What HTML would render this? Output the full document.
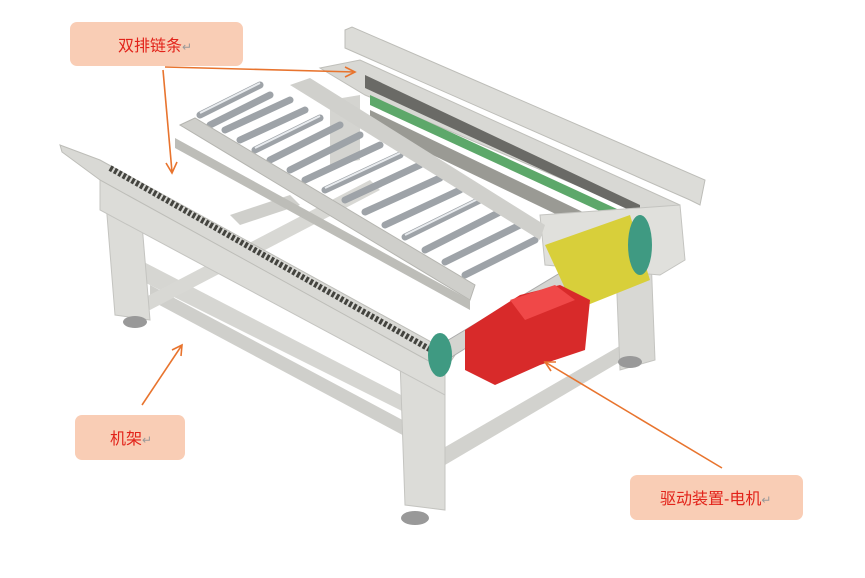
<!DOCTYPE html>
<html><head><meta charset="utf-8"><style>
html,body{margin:0;padding:0;background:#fff;}
svg{display:block;}
text{font-family:"Liberation Sans","Noto Sans CJK SC",sans-serif;}
</style></head><body>
<svg width="865" height="578" viewBox="0 0 865 578" xmlns="http://www.w3.org/2000/svg">
<rect width="865" height="578" fill="#fff"/>
<polygon points="345,30 352,27 705,180 700,205 690,200 345,48" fill="#dcdcd8" stroke="#bdbdb8"/>
<!-- lower frame -->
<polygon points="140,260 430,410 440,430 140,280" fill="#d6d6d2"/>
<polygon points="150,285 440,440 440,455 150,300" fill="#cfcfcb"/>
<polygon points="140,300 370,180 380,190 150,310" fill="#d8d8d4"/>
<polygon points="440,450 630,340 640,350 445,465" fill="#d2d2ce"/>
<polygon points="230,215 290,195 300,205 240,225" fill="#cfcfcb"/>
<!-- legs -->
<polygon points="105,190 140,200 150,320 115,315" fill="#dcdcd8" stroke="#c4c4c0"/>
<polygon points="400,360 445,370 445,510 405,505" fill="#dcdcd8" stroke="#c4c4c0"/>
<polygon points="615,245 650,230 655,360 620,370" fill="#d8d8d4" stroke="#c4c4c0"/>
<polygon points="330,100 360,95 360,160 330,165" fill="#d4d4d0"/>
<!-- back rail -->
<polygon points="320,68 360,60 680,205 670,225 365,95" fill="#d8d8d4" stroke="#bfbfba"/>
<polygon points="365,75 640,205 640,215 365,88" fill="#6a6a66"/>
<polygon points="370,95 630,215 630,225 370,105" fill="#5da86a"/>
<polygon points="370,110 610,225 610,240 370,125" fill="#9a9a94"/>
<polygon points="540,215 680,205 685,260 660,275 545,265" fill="#e0e0dc" stroke="#c4c4c0"/>
<!-- rollers -->
<g stroke="#9ea3a8" stroke-width="7" stroke-linecap="round">
<line x1="200" y1="115" x2="260" y2="85"/><line x1="210" y1="125" x2="270" y2="95"/>
<line x1="225" y1="130" x2="290" y2="100"/><line x1="240" y1="140" x2="305" y2="110"/>
<line x1="255" y1="150" x2="320" y2="118"/><line x1="270" y1="160" x2="340" y2="125"/>
<line x1="290" y1="170" x2="360" y2="135"/><line x1="305" y1="180" x2="380" y2="145"/>
<line x1="325" y1="190" x2="400" y2="155"/><line x1="345" y1="200" x2="420" y2="165"/>
<line x1="365" y1="212" x2="440" y2="178"/><line x1="385" y1="225" x2="460" y2="190"/>
<line x1="405" y1="237" x2="480" y2="200"/><line x1="425" y1="250" x2="500" y2="212"/>
<line x1="445" y1="262" x2="520" y2="225"/><line x1="465" y1="275" x2="535" y2="240"/>
</g>
<g stroke="#e8ebee" stroke-width="2">
<line x1="200" y1="113" x2="260" y2="83"/><line x1="255" y1="148" x2="320" y2="116"/>
<line x1="325" y1="188" x2="400" y2="153"/><line x1="405" y1="235" x2="480" y2="198"/>
</g>
<polygon points="180,125 195,118 475,285 470,300" fill="#cfcfcb" stroke="#b5b5b0"/>
<polygon points="175,138 470,300 470,310 175,148" fill="#bdbdb8"/>
<polygon points="290,85 310,78 545,225 540,240" fill="#d0d0cc"/>
<!-- front left rail with side plate -->
<polygon points="100,175 445,365 445,395 100,210" fill="#dcdcd8" stroke="#c4c4c0"/>
<polygon points="60,145 100,160 455,355 445,370 100,180 62,152" fill="#d9d9d5" stroke="#bdbdb8"/>
<line x1="110" y1="168" x2="440" y2="355" stroke="#44443f" stroke-width="6" stroke-dasharray="3,2"/>
<!-- drive shaft & yellow cylinder -->
<polygon points="440,345 640,225 648,235 450,358" fill="#d4d4d0" stroke="#aaa"/>
<polygon points="545,245 630,215 650,280 575,310" fill="#d8cf3a"/>
<ellipse cx="640" cy="245" rx="12" ry="30" fill="#3f9a82"/>
<ellipse cx="440" cy="355" rx="12" ry="22" fill="#3f9a82"/>
<!-- red motor -->
<polygon points="465,330 520,295 560,285 590,300 585,350 540,365 495,385 465,370" fill="#d82a2a"/>
<polygon points="510,300 555,285 575,300 525,320" fill="#f04848"/>
<!-- feet -->
<ellipse cx="135" cy="322" rx="12" ry="6" fill="#999"/>
<ellipse cx="415" cy="518" rx="14" ry="7" fill="#999"/>
<ellipse cx="630" cy="362" rx="12" ry="6" fill="#999"/>
<!-- labels -->
<rect x="70" y="22" width="173" height="44" rx="7" fill="#f9cdb5"/>
<text x="118" y="51" font-size="16" fill="#e2231a">双排链条<tspan fill="#999" font-size="12">↵</tspan></text>
<rect x="75" y="415" width="110" height="45" rx="7" fill="#f9cdb5"/>
<text x="110" y="444" font-size="16" fill="#e2231a">机架<tspan fill="#999" font-size="12">↵</tspan></text>
<rect x="630" y="475" width="173" height="45" rx="7" fill="#f9cdb5"/>
<text x="660" y="504" font-size="16" fill="#e2231a">驱动装置-电机<tspan fill="#999" font-size="12">↵</tspan></text>
<g stroke="#e8742e" stroke-width="1.6" fill="none">
<line x1="165" y1="67" x2="355" y2="72"/><polyline points="345,67 355,72 345,77"/>
<line x1="163" y1="70" x2="172" y2="172"/><polyline points="166,163 172,173 177,162"/>
<line x1="142" y1="405" x2="182" y2="345"/><polyline points="172,350 182,345 181,356"/>
<line x1="722" y1="468" x2="545" y2="362"/><polyline points="556,362 545,362 551,371"/>
</g>
</svg>
</body></html>
